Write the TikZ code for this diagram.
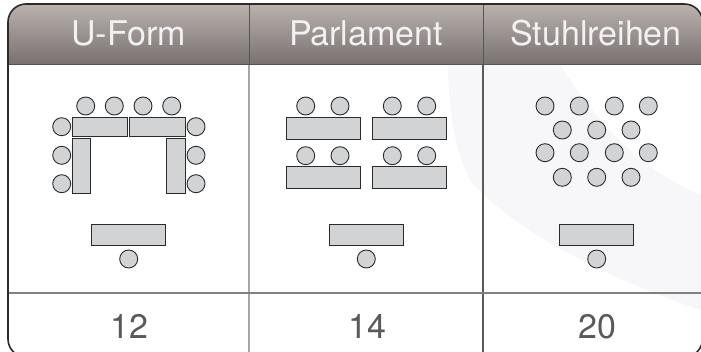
\documentclass[tikz,border=0pt]{standalone}
\usepackage{fontspec}
\setmainfont{TeX Gyre Heros}
\definecolor{seat}{HTML}{D1D3D5}
\definecolor{edgec}{HTML}{2B2B2B}
\definecolor{headtop}{HTML}{BBB2AE}
\definecolor{headbot}{HTML}{787170}
\definecolor{headline}{HTML}{4B584B}
\definecolor{numc}{HTML}{58595B}
\definecolor{swoosh}{HTML}{F7F7F9}
\begin{document}
\begin{tikzpicture}[x=1pt,y=-1pt,
  chair/.style={circle,draw=edgec,fill=seat,line width=0.9pt,minimum size=18pt,inner sep=0pt},
  tablebox/.style={rectangle,draw=edgec,fill=seat,line width=0.9pt,inner sep=0pt},
  headtext/.style={anchor=base,text=white!95!black,font=\fontsize{34}{37}\selectfont,inner sep=0pt},
  numtext/.style={anchor=base,text=numc,font=\fontsize{34}{37}\selectfont,inner sep=0pt}]
\useasboundingbox (0,0) rectangle (701,351);
\clip (0,0) rectangle (701,351);
% faint background swoosh
\fill[swoosh] (448,64) -- (560,64) .. controls (600,130) and (650,175) .. (701,195) -- (701,310)
  .. controls (640,290) and (520,240) .. (470,180) .. controls (455,150) and (448,110) .. (448,64) -- cycle;
% header band
\begin{scope}
\clip[rounded corners=18pt] (8,4) rectangle (702,357);
\shade[top color=headtop,bottom color=headbot] (0,4) rectangle (702,64);
\end{scope}
\draw[headline,line width=1.5pt] (8,64.5) -- (702,64.5);
% dividers
\draw[edgec!80,line width=1pt] (249,4) -- (249,64);
\draw[edgec!80,line width=1pt] (483,4) -- (483,64);
\draw[black!35,line width=1.2pt] (249,65) -- (249,357);
\draw[black!65,line width=1.2pt] (483,65) -- (483,357);
\draw[black!50,line width=1.6pt] (8,293) -- (702,293);
% frame
\draw[edgec,line width=1.6pt,rounded corners=18pt] (8,4) rectangle (702.5,357);
% header texts
\node[headtext] (h1) at (128.5,45) {U-Form};
\node[headtext] (h2) at (366,45) {Parlament};
\node[headtext] (h3) at (596,45) {Stuhlreihen};
% numbers
\node[numtext] (n1) at (129,338) {12};
\node[numtext] (n2) at (367,338) {14};
\node[numtext] (n3) at (597,338) {20};
% ---------- U-Form ----------
\node[tablebox,minimum width=55.2pt,minimum height=18.7pt] (ut1) at (99.9,126.7) {};
\node[tablebox,minimum width=55.2pt,minimum height=18.7pt] (ut2) at (157.4,126.7) {};
\node[tablebox,minimum width=18.4pt,minimum height=55pt] (utl) at (81.5,165.8) {};
\node[tablebox,minimum width=18.4pt,minimum height=55pt] (utr) at (175.8,165.8) {};
\node[tablebox,minimum width=74.4pt,minimum height=21.7pt] (utb) at (128.5,234.9) {};
\foreach \x [count=\i] in {85.7,114.3,143.0,171.7} \node[chair] (uct\i) at (\x,106) {};
\foreach \y [count=\i] in {126.7,155.3,183.7} {
  \node[chair] (ucl\i) at (61.7,\y) {};
  \node[chair] (ucr\i) at (196,\y) {};
}
\node[chair] (ucb) at (128.7,259) {};
% ---------- Parlament ----------
\foreach \cx [count=\j] in {323.2,409.3} {
  \node[tablebox,minimum width=74.3pt,minimum height=22pt] (pt1\j) at (\cx,128.3) {};
  \node[tablebox,minimum width=74.3pt,minimum height=22pt] (pt2\j) at (\cx,177.5) {};
}
\foreach \x [count=\i] in {305.7,340,392.3,426.7} {
  \node[chair] (pca\i) at (\x,106) {};
  \node[chair] (pcb\i) at (\x,155.7) {};
}
\node[tablebox,minimum width=74.7pt,minimum height=21.7pt] (ptb) at (366.4,234.9) {};
\node[chair] (pcc) at (366.3,259) {};
% ---------- Stuhlreihen ----------
\foreach \x [count=\i] in {545,579.3,614.3,648.3} {
  \node[chair] (sa\i) at (\x,106) {};
  \node[chair] (sc\i) at (\x,152.7) {};
}
\foreach \x [count=\i] in {562.3,596.7,631} {
  \node[chair] (sb\i) at (\x,130) {};
  \node[chair] (sd\i) at (\x,177.3) {};
}
\node[tablebox,minimum width=74.4pt,minimum height=21.7pt] (stb) at (596.5,234.9) {};
\node[chair] (scb) at (596.7,259) {};
\end{tikzpicture}
\end{document}
